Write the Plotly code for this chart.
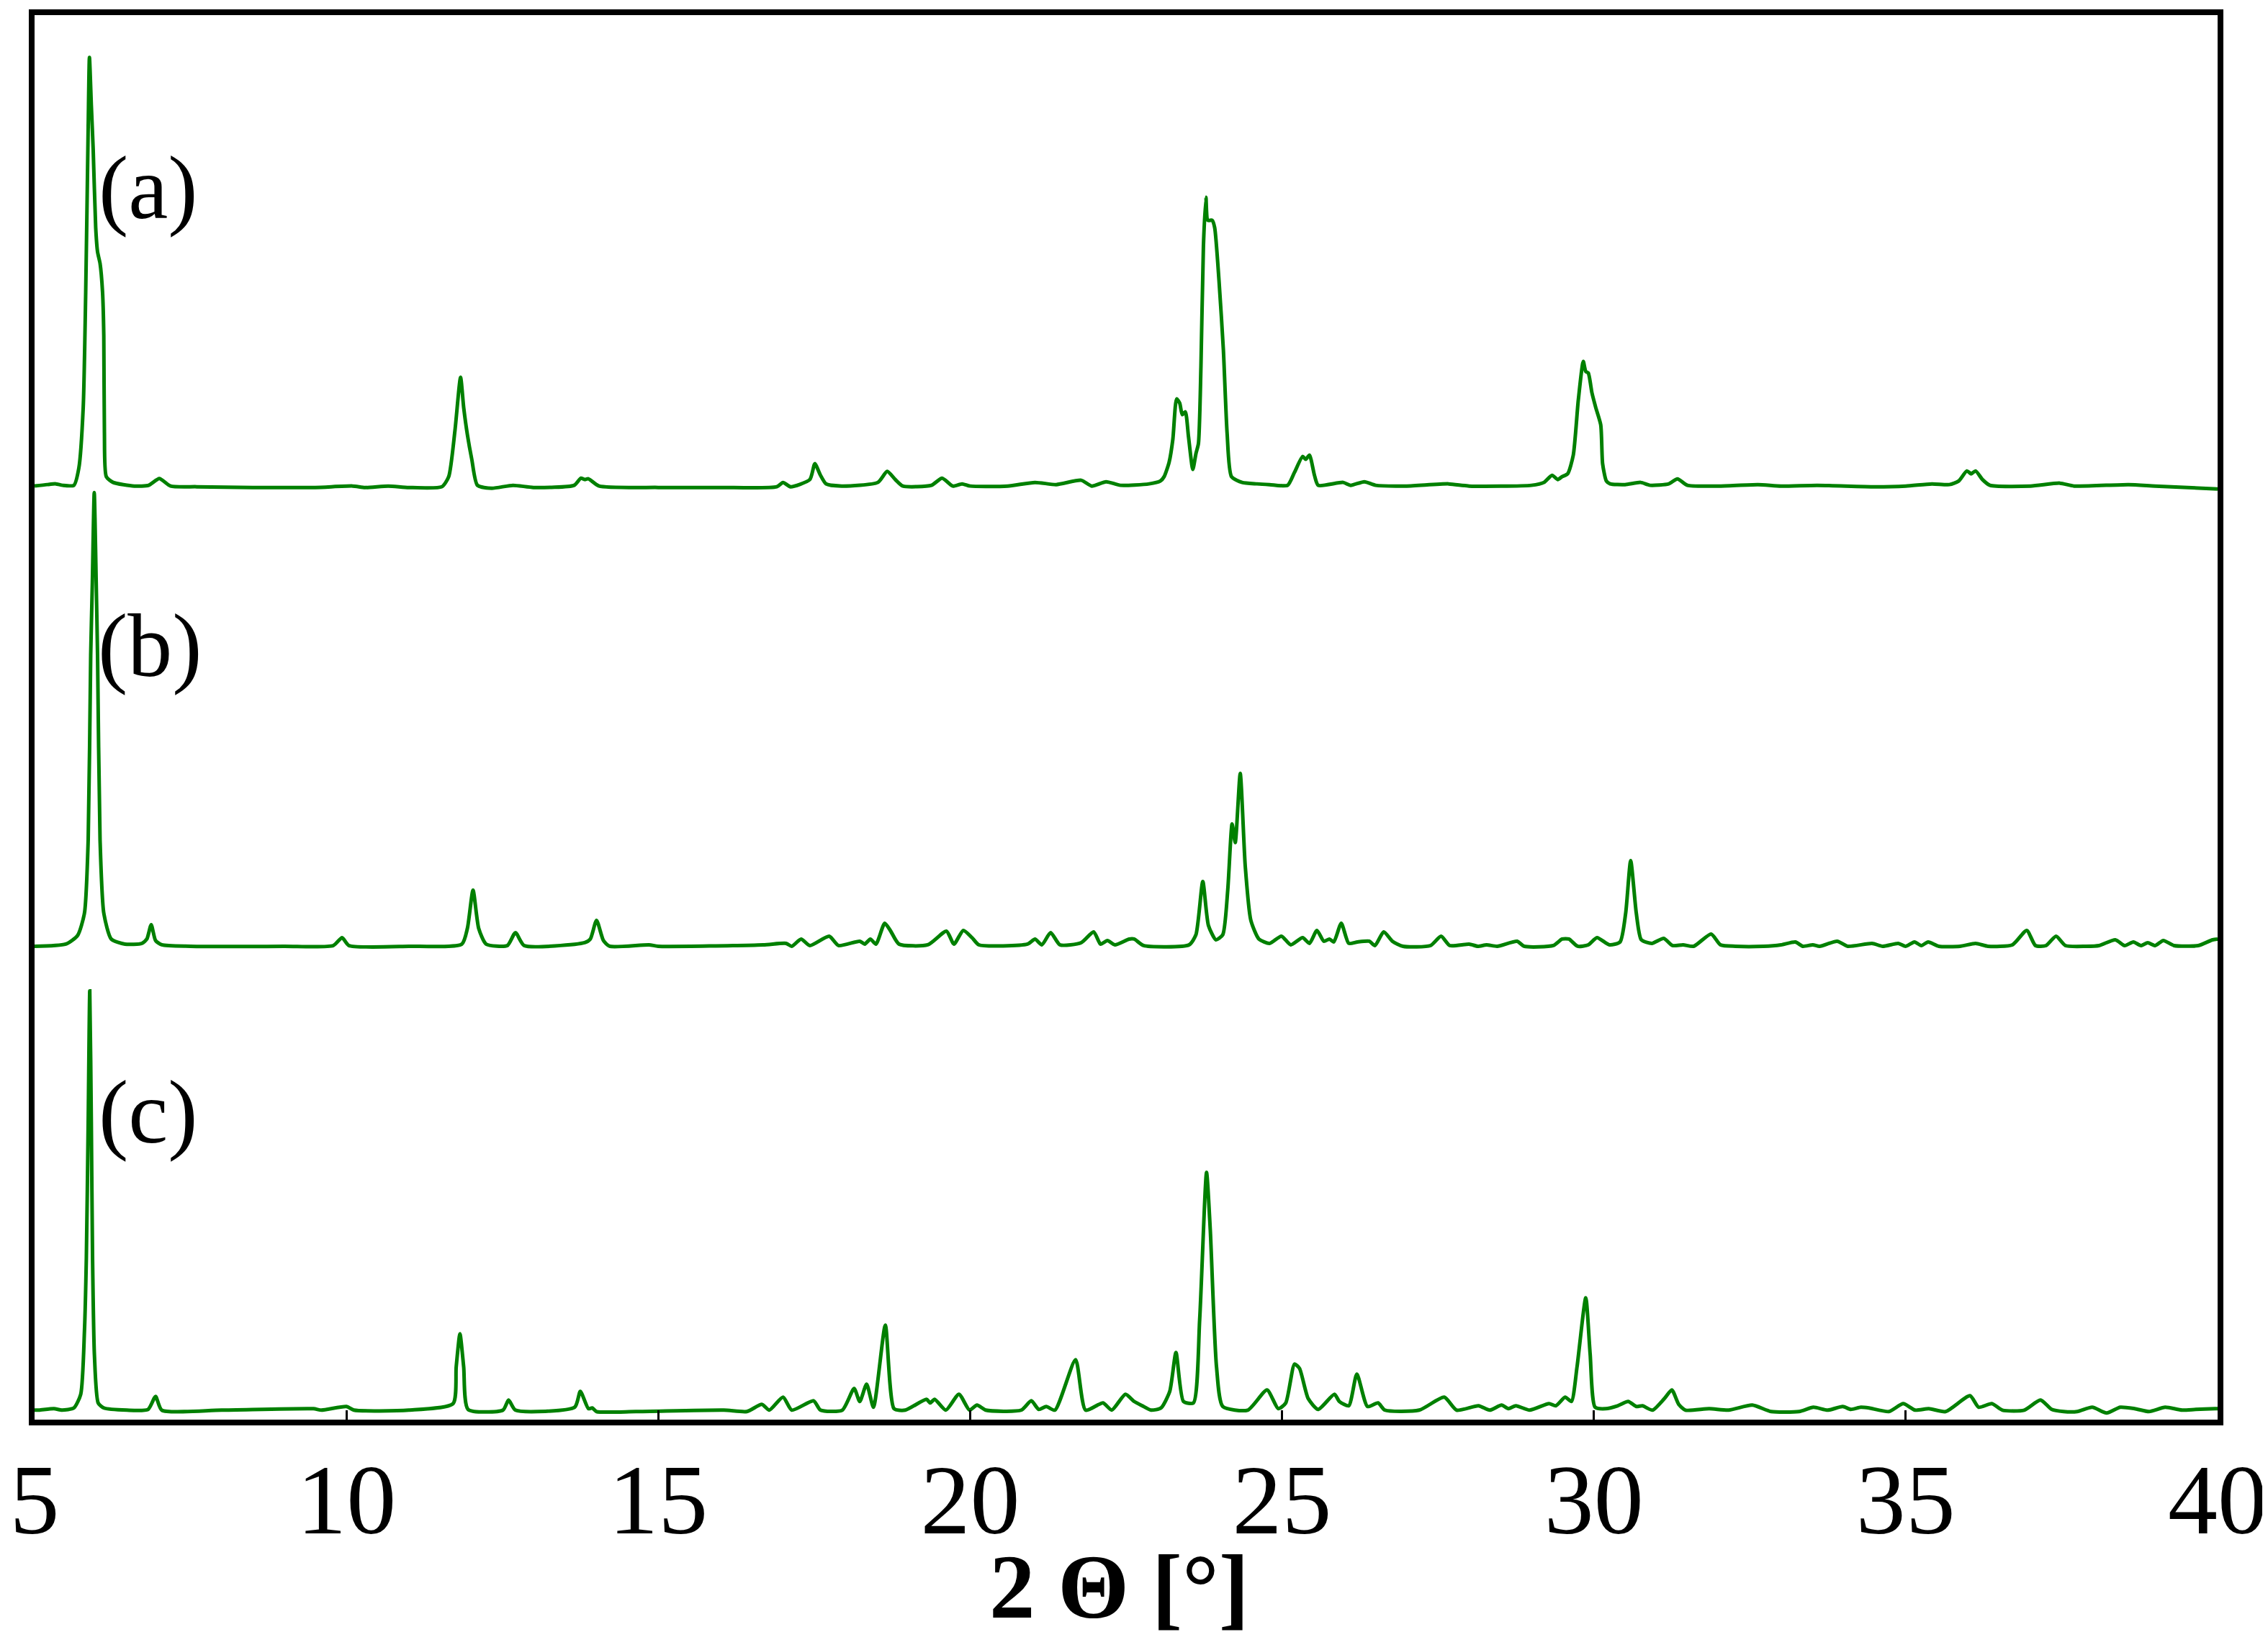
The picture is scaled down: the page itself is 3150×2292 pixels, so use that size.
import plotly.graph_objects as go

# ---- data (2-theta in degrees, intensity in arbitrary units above each baseline) ----
tt_a = [5.00, 5.20, 5.34, 5.45, 5.63, 5.71, 5.78, 5.82, 5.86, 5.88, 5.91, 5.94, 5.98, 6.01, 6.05, 6.09, 6.11, 6.12,
        6.15, 6.26, 6.60, 6.83, 7.00, 7.18, 7.6, 8.5, 9.5, 10.10, 10.3, 10.67, 11.0, 11.53, 11.64, 11.74, 11.83,
        11.88, 11.94, 12.01, 12.10, 12.33, 12.67, 13.0, 13.65, 13.76, 13.82, 13.88, 14.05, 15.0, 16.0, 16.9, 17.00,
        17.12, 17.43, 17.51, 17.60, 17.69, 17.94, 18.52, 18.67, 18.80, 18.92, 19.38, 19.55, 19.72, 19.87, 20.0,
        20.6, 21.04, 21.38, 21.78, 21.95, 22.18, 22.41, 22.87, 23.05, 23.11, 23.19, 23.25, 23.31, 23.36, 23.40,
        23.45, 23.50, 23.57, 23.62, 23.66, 23.70, 23.74, 23.78, 23.81, 23.88, 23.92, 23.99, 24.06, 24.12, 24.19,
        24.36, 24.6, 24.8, 25.09, 25.2, 25.33, 25.38, 25.44, 25.52, 25.58, 25.98, 26.1, 26.32, 26.5, 27.0, 27.67,
        28.0, 29.0, 29.2, 29.33, 29.42, 29.49, 29.58, 29.67, 29.75, 29.83, 29.87, 29.91, 29.97, 30.03, 30.11,
        30.14, 30.20, 30.26, 30.5, 30.75, 30.9, 31.2, 31.34, 31.5, 32.0, 32.63, 33.0, 33.58, 34.5, 35.0, 35.42,
        35.7, 35.85, 35.98, 36.05, 36.12, 36.23, 36.35, 37.0, 37.47, 37.7, 38.57, 39.0, 40.0]
I_a = [0.5, 1.5, 2, 1, 1, 13, 55, 135, 250, 298, 265, 234, 180, 163, 155, 135, 105, 38,
       7, 3, 0.5, 1, 5.7, 0.5, 0, -0.5, -0.5, 0.5, -0.5, 0.5, -0.5, 0, 7, 39, 76,
       55, 36, 19, 1, -1, 1, -0.5, 1, 6, 5, 5.5, 0.5, -0.5, -0.5, 0, 3,
       0, 5, 16, 8, 2, 0.5, 3, 10.7, 5, 0.5, 1, 6, 0.5, 2, 0.5,
       0.5, 3, 1.5, 4.5, 0.5, 3.5, 1, 2, 4, 7, 17, 33, 61, 58, 50,
       52, 35, 12, 23, 30, 83, 167, 201, 185, 185, 180, 143, 95, 37, 7,
       3, 2, 1.5, 1, 10, 21, 19, 22, 8, 1, 3, 1, 3.5, 1, 0.5, 2,
       0.5, 1, 3, 8, 5, 7, 9, 22, 60, 87, 80, 79, 65, 55, 43,
       16, 4, 2, 1.5, 3, 1, 2, 5.5, 1, 0.5, 1.5, 0.5, 1, 0, 0.5, 2,
       1.5, 4, 11, 9, 11, 5, 1, 0.5, 2.5, 0.5, 1.5, 0.5, -1.5]

tt_b = [5.00, 5.50, 5.69, 5.80, 5.86, 5.90, 5.927, 5.957, 5.988, 6.01, 6.05, 6.11, 6.23, 6.45, 6.72, 6.80, 6.87,
        6.94, 7.04, 7.5, 9.0, 9.79, 9.93, 10.04, 11.0, 11.85, 11.94, 12.03, 12.12, 12.24, 12.58, 12.71, 12.85,
        13.82, 13.91, 14.01, 14.12, 14.22, 14.85, 15.0, 16.68, 17.05, 17.14, 17.29, 17.43, 17.74, 17.89, 18.23,
        18.31, 18.40, 18.49, 18.63, 18.72, 18.86, 19.32, 19.62, 19.74, 19.89, 20.03, 20.14, 20.92, 21.04, 21.15,
        21.29, 21.44, 21.78, 21.98, 22.09, 22.20, 22.32, 22.55, 22.63, 22.78, 23.51, 23.62, 23.73, 23.82, 23.94,
        24.05, 24.13, 24.20, 24.25, 24.33, 24.41, 24.50, 24.63, 24.80, 24.99, 25.14, 25.33, 25.44, 25.56, 25.67,
        25.76, 25.83, 25.95, 26.07, 26.21, 26.40, 26.49, 26.63, 26.77, 26.94, 27.38, 27.55, 27.69, 28.0, 28.14,
        28.28, 28.45, 28.77, 28.88, 29.35, 29.49, 29.6, 29.74, 29.91, 30.05, 30.25, 30.42, 30.51, 30.59, 30.68,
        30.76, 30.93, 31.12, 31.26, 31.43, 31.6, 31.88, 32.03, 32.27, 32.72, 33.0, 33.23, 33.35, 33.51, 33.62,
        33.9, 34.07, 34.46, 34.63, 34.88, 35.0, 35.14, 35.25, 35.36, 35.53, 35.87, 36.12, 36.32, 36.71, 36.94,
        37.08, 37.25, 37.41, 37.56, 37.89, 38.1, 38.36, 38.51, 38.65, 38.77, 38.88, 39.0, 39.13, 39.3, 39.69,
        39.92, 40.0]
I_b = [0, 1.5, 7.5, 23, 74, 202, 253, 315, 253, 202, 74, 23, 5, 1.5, 2, 5, 15,
       4, 1, 0, 0, 0.5, 6, 0.5, 0, 1.5, 12.5, 39, 12.5, 1.5, 0.5, 9.5, 0.5,
       2.5, 5, 18, 4, 0, 1, 0, 1, 2, 0, 5, 0.5, 7, 0.5, 3.5,
       1.5, 5, 1.5, 16, 11, 1.5, 1, 10.5, 1.5, 11, 6, 1, 1.5, 5, 1,
       9.5, 1, 2.5, 10, 1.5, 4, 1, 5, 5, 0.5, 1, 8, 45, 14.5, 4.5,
       8, 39, 85, 72, 120, 56, 18, 5, 2, 7, 1, 6, 2, 11, 3.5,
       5, 3, 16, 2, 3, 3.5, 0.5, 10, 3.5, 0, 0.5, 7, 0.5, 1.5, 0,
       1, 0, 3.5, 0, 0.5, 5, 5, 0, 1, 6, 1, 3, 23, 59.5, 23,
       4.5, 2, 5.5, 0.5, 1, 0, 8.5, 1, 0, 0, 1, 3, 0, 1, 0,
       3.5, 0, 2, 0, 2, 0, 3, 0.5, 3, 0, 0, 2, 0, 1, 11,
       0.5, 0.5, 7, 0.5, 0, 0.5, 4.5, 0.5, 3, 0.5, 2.5, 0.5, 4, 0.5, 0.5,
       4.5, 5]

tt_c = [5.00, 5.07, 5.31, 5.44, 5.63, 5.74, 5.80, 5.83, 5.86, 5.885, 5.91, 5.93, 5.96, 6.02, 6.11, 6.48, 6.82,
        6.94, 7.04, 8.0, 9.47, 9.6, 10.0, 10.12, 11.0, 11.71, 11.76, 11.82, 11.88, 11.95, 12.51, 12.60, 12.71,
        13.66, 13.75, 13.88, 13.94, 14.01, 14.64, 16.05, 16.42, 16.66, 16.78, 17.0, 17.14, 17.49, 17.6, 17.95,
        18.14, 18.23, 18.34, 18.45, 18.64, 18.78, 18.96, 19.30, 19.36, 19.43, 19.61, 19.82, 19.99, 20.11, 20.25,
        20.82, 20.98, 21.1, 21.22, 21.36, 21.69, 21.85, 22.13, 22.27, 22.49, 22.63, 22.76, 22.9, 23.06, 23.2,
        23.3, 23.42, 23.58, 23.68, 23.79, 23.85, 23.95, 24.05, 24.45, 24.76, 24.94, 25.06, 25.20, 25.28, 25.42,
        25.58, 25.84, 25.92, 26.07, 26.20, 26.37, 26.54, 26.65, 27.2, 27.6, 27.8, 28.15, 28.33, 28.52, 28.63,
        28.75, 28.97, 29.28, 29.39, 29.54, 29.64, 29.73, 29.87, 29.94, 30.02, 30.19, 30.38, 30.55, 30.68, 30.78,
        30.94, 31.13, 31.25, 31.36, 31.47, 31.85, 32.16, 32.54, 32.84, 33.29, 33.52, 33.75, 33.99, 34.12, 34.28,
        34.41, 34.73, 34.96, 35.15, 35.37, 35.64, 36.03, 36.17, 36.38, 36.55, 36.9, 37.16, 37.34, 37.53, 37.75,
        37.99, 38.22, 38.44, 38.67, 38.9, 39.16, 39.43, 39.65, 39.96, 40.0]
I_c = [0, 0, 1, 0, 1.5, 11, 55, 105, 200, 291, 200, 105, 38, 5, 1.5, 0, 0.5,
       9.5, 0, 0, 1, 0, 2.5, 0, 0, 4.5, 30, 53, 30, 0.5, 0, 7, 0,
       2, 13, 1, 1.5, -1, -1, 0, -1, 4, 0, 9, 0, 6.5, 0, 0,
       15, 6, 18, 2, 59, 1, 0, 7.5, 5, 7.5, 0, 11, 0, 3.5, 0,
       0, 6.5, 0.5, 2.5, 0, 35, 0, 5, 0, 11, 6, 3, 0, 1.5, 13,
       40, 6, 5, 63, 165, 125, 30, 2.5, 0, 14, 1, 5, 32, 29, 8,
       0.5, 11, 6, 3, 25, 2.5, 5, 0, 0, 9, 0, 3, 0, 3.5, 1,
       3, 0, 4.5, 3, 9, 6, 30, 78, 39, 2, 1, 3, 6, 2.5, 3,
       0, 8, 14, 4, 0, 1, 0, 3.5, -1, -1, 2, 0, 2.5, 0.5, 2,
       1.5, -1, 4.5, 0, 1, -1, 10, 2, 4.5, 0, 0, 7, 0.5, -1, -1,
       2, -2, 2, 1, -1, 2, 0, 0.5, 1, 1]

offsets = {"a": 647.6, "b": 328.6, "c": 6.6}
panel_labels = ["(a)", "(b)", "(c)"]
x_ticks = [5, 10, 15, 20, 25, 30, 35, 40]
x_title = "<b>2 Θ [°]</b>"

GREEN = "#008000"
FONT = "Liberation Serif"

fig = go.Figure()
for tt, I, key in [(tt_a, I_a, "a"), (tt_b, I_b, "b"), (tt_c, I_c, "c")]:
    fig.add_trace(go.Scatter(x=tt, y=[v + offsets[key] for v in I], mode="lines",
                             line=dict(color=GREEN, width=5, shape="spline", smoothing=0.6),
                             showlegend=False))

label_pos = [(6.82, 855), (6.85, 537), (6.82, 213)]
for txt, (lx, ly) in zip(panel_labels, label_pos):
    fig.add_annotation(x=lx, y=ly, text=txt, showarrow=False, xanchor="center", yanchor="middle",
                       font=dict(family=FONT, size=124, color="black"))

# axis title as a paper-anchored annotation (keeps it clear of the page edge)
fig.add_annotation(x=0.497, y=-0.119, xref="paper", yref="paper", text=x_title, showarrow=False,
                   xanchor="center", yanchor="middle", font=dict(family=FONT, size=127, color="black"))

fig.update_xaxes(range=[5, 40], tickmode="array", tickvals=x_ticks, ticktext=[str(t) for t in x_ticks],
                 ticks="inside", ticklen=13, tickwidth=3, tickcolor="black",
                 showline=True, linewidth=8, linecolor="black", mirror=True,
                 showgrid=False, zeroline=False, ticklabeloverflow="allow",
                 tickfont=dict(family=FONT, size=138, color="black"), ticklabelstandoff=-16)
fig.update_yaxes(range=[0, 975], showticklabels=False, ticks="", showline=True, linewidth=8,
                 linecolor="black", mirror=True, showgrid=False, zeroline=False)
fig.update_layout(width=3150, height=2292, plot_bgcolor="white", paper_bgcolor="white",
                  margin=dict(l=32, r=78, t=5, b=328))
fig.write_html("out.html")
